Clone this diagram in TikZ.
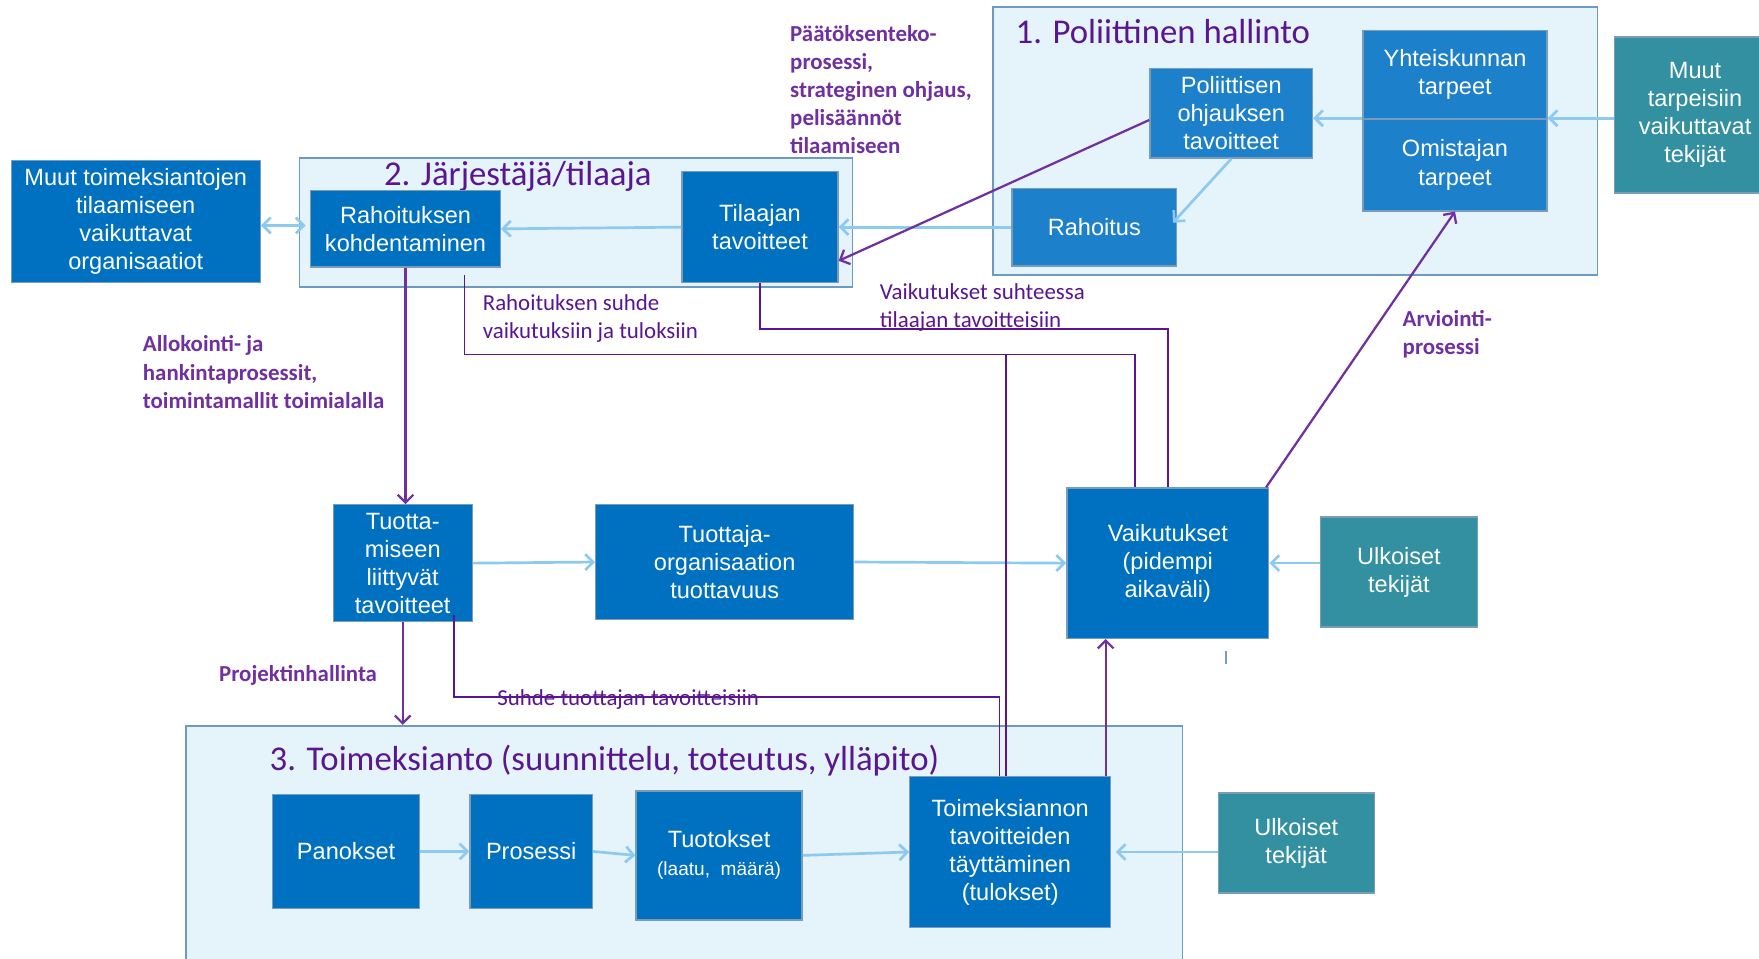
\documentclass[tikz,border=0pt]{standalone}
\usepackage{fontspec}
\setmainfont{Liberation Sans}
\newfontfamily\calibri{Carlito}
\usetikzlibrary{arrows.meta}

\definecolor{grpfill}{HTML}{E5F3FB}
\definecolor{grpedge}{HTML}{6C9AC0}
\definecolor{darkblue}{HTML}{0070C0}
\definecolor{lightblue}{HTML}{1D80CA}
\definecolor{tealblue}{HTML}{3290A0}
\definecolor{boxedge}{HTML}{7A9CBC}
\definecolor{skyline}{HTML}{8DCAF0}
\definecolor{purpline}{HTML}{7030A0}
\definecolor{darkpurp}{HTML}{5A1690}

\tikzset{
  group/.style={draw=grpedge, fill=grpfill, line width=0.8pt, inner sep=0pt},
  box/.style={draw=boxedge, line width=0.6pt, text=white, align=center, inner sep=1pt,
    font=\fontsize{10.5}{12.5}\selectfont},
  dbox/.style={box, fill=darkblue},
  lbox/.style={box, fill=lightblue},
  tbox/.style={box, fill=tealblue},
  skyarrow/.style={draw=skyline, line width=1.2pt, -{Straight Barb[length=3.5pt,width=7pt]}},
  skydouble/.style={draw=skyline, line width=1.2pt,
    {Straight Barb[length=3.5pt,width=7pt]}-{Straight Barb[length=3.5pt,width=7pt]}},
  purparrow/.style={draw=purpline, line width=1pt, -{Straight Barb[length=3.5pt,width=7pt]}},
  relline/.style={draw=darkpurp, line width=0.8pt},
  ptitle/.style={text=darkpurp, font=\calibri\fontsize{15.5}{18}\selectfont, inner sep=0pt, anchor=west},
  blabel/.style={text=purpline, font=\calibri\bfseries\fontsize{10.2}{12.5}\selectfont, align=left,
    anchor=north west, inner sep=0pt},
  rlabel/.style={text=darkpurp, font=\calibri\fontsize{10.2}{12.5}\selectfont, align=left,
    anchor=north west, inner sep=0pt},
}

\begin{document}
\begin{tikzpicture}[x=0.5pt,y=0.5pt,yscale=-1,xscale=1]
\fill[white] (0,0) rectangle (1568,854);
\useasboundingbox (0,0) rectangle (1568,854);

% Groups
\node[group, minimum width=269.5pt, minimum height=119.5pt] (polgrp) at (1154.5,125.5) {};
\node[group, minimum width=246.5pt, minimum height=57.5pt] (tilgrp) at (513.5,198.5) {};
\node[group, minimum width=444pt, minimum height=116.5pt] (toimgrp) at (610,763.5) {};

% Titles
\node[ptitle] (poltitle) at (905,28) {1. Poliittinen hallinto};
\node[ptitle] (tiltitle) at (342,157) {2. Järjestäjä/tilaaja};
\node[ptitle] (toimtitle) at (240,678) {3. Toimeksianto (suunnittelu, toteutus, ylläpito)};

% 1. Poliittinen hallinto
\node[lbox, minimum width=72.5pt, minimum height=40pt] (polohj) at (1097.5,101) {Poliittisen\\ohjauksen\\tavoitteet};
\node[lbox, minimum width=82pt, minimum height=39.5pt] (yhteis) at (1297,66.5) {Yhteiskunnan\\tarpeet};
\node[lbox, minimum width=82pt, minimum height=41pt] (omist) at (1297,147) {Omistajan\\tarpeet};
\node[lbox, minimum width=73.5pt, minimum height=34.5pt] (rahoitus) at (975.5,202.5) {Rahoitus};
\node[tbox, minimum width=72pt, minimum height=69.5pt] (muuttarp) at (1511,102.5) {Muut\\tarpeisiin\\vaikuttavat\\tekijät};

% 2. Jarjestaja/tilaaja
\node[dbox, minimum width=84.5pt, minimum height=34pt] (rahkoh) at (361.5,204) {Rahoituksen\\kohdentaminen};
\node[dbox, minimum width=69.5pt, minimum height=49.5pt] (tilaaja) at (677.5,202.5) {Tilaajan\\tavoitteet};
\node[dbox, minimum width=111pt, minimum height=54.5pt] (muuttoim) at (121,197.5) {Muut toimeksiantojen\\tilaamiseen\\vaikuttavat\\organisaatiot};

% middle row
\node[dbox, minimum width=62pt, minimum height=52pt] (tuotav) at (359,502) {Tuotta-\\miseen\\liittyvät\\tavoitteet};
\node[dbox, minimum width=115pt, minimum height=51pt] (tuottaja) at (646,501) {Tuottaja-\\organisaation\\tuottavuus};
\node[dbox, minimum width=90pt, minimum height=67pt] (vaik) at (1041,502) {Vaikutukset\\(pidempi\\aikaväli)};
\node[tbox, minimum width=70pt, minimum height=49pt] (ulk1) at (1247,510) {Ulkoiset\\tekijät};

% 3. Toimeksianto
\node[dbox, minimum width=65.5pt, minimum height=51pt] (panokset) at (308.5,759) {Panokset};
\node[dbox, minimum width=54.5pt, minimum height=51pt] (prosessi) at (473.5,759) {Prosessi};
\node[dbox, minimum width=74pt, minimum height=57.5pt] (tuotokset) at (641,762.5) {Tuotokset\\{\fontsize{8.5}{11}\selectfont(laatu,~ määrä)}};
\node[dbox, minimum width=89.5pt, minimum height=67.5pt] (toimeks) at (900.5,759.5) {Toimeksiannon\\tavoitteiden\\täyttäminen\\(tulokset)};
\node[tbox, minimum width=69.5pt, minimum height=44.5pt] (ulk2) at (1155.5,751.5) {Ulkoiset\\tekijät};

%Straight Lines
\draw[skyarrow] (muuttarp.west |- omist.north) -- (omist.north east);
\draw[skyarrow] (omist.north west) -- (polohj.east |- omist.north);
\draw[skyarrow] (polohj.south) -- ([xshift=-2pt,yshift=-2pt]rahoitus.east);
\draw[skyarrow] (rahoitus.west) -- (tilaaja.east);
\draw[skyarrow] (tilaaja.west) -- (rahkoh.east);
\draw[skydouble] ([yshift=-1.5pt]muuttoim.east |- rahkoh.west) -- ([xshift=-2pt,yshift=-1.5pt]rahkoh.west);
\draw[skyarrow] (tuotav.east) -- (tuottaja.west);
\draw[skyarrow] (tuottaja.east) -- (vaik.west);
\draw[skyarrow] (ulk1.west |- vaik.east) -- (vaik.east);
\draw[skyarrow] (panokset.east) -- (prosessi.west);
\draw[skyarrow] (prosessi.east) -- (tuotokset.west);
\draw[skyarrow] (tuotokset.east) -- (toimeks.west);
\draw[skyarrow] (ulk2.west |- toimeks.east) -- ([xshift=2pt]toimeks.east);

%Purple arrows
\draw[purparrow] ([yshift=3pt]polohj.west) -- ([yshift=15pt]tilaaja.east);
\draw[purparrow] (rahkoh.south) -- (rahkoh.south |- tuotav.north);
\draw[purparrow] (tuotav.south) -- (tuotav.south |- toimgrp.north);
\draw[purparrow] ([xshift=-2.5pt]toimeks.north east) -- ([xshift=-2.5pt]toimeks.north east |- vaik.south);
\draw[purparrow] ([xshift=-1.5pt]vaik.north east) -- (omist.south);

%Relation lines
\coordinate (rahsuhde) at (414,245);
\draw[relline] (rahsuhde) -- ++(0,71) coordinate (rahkulma) -| ([xshift=-14.5pt]vaik.north);
\draw[relline] ([xshift=-1.75pt]toimeks.north) -- ([xshift=-1.75pt]toimeks.north |- rahkulma);
\draw[relline] (tilaaja.south) -- ++(0,41) -| (vaik.north);
\draw[relline] ([xshift=23pt,yshift=-3pt]tuotav.south) -- ++(0,73) -| ([xshift=-4.75pt]toimeks.north);
\draw[boxedge, line width=0.6pt] (1093,580) -- (1093,592);

% Text Node
\node[blabel] (lblpaatos) at (704,22) {Päätöksenteko-\\prosessi,\\strateginen ohjaus,\\pelisäännöt\\tilaamiseen};
% Text Node
\node[blabel] (lblallok) at (127,299) {Allokointi- ja\\hankintaprosessit,\\toimintamallit toimialalla};
% Text Node
\node[blabel] (lblprojekti) at (195,593) {Projektinhallinta};
% Text Node
\node[blabel] (lblarviointi) at (1250,276) {Arviointi-\\prosessi};
% Text Node
\node[rlabel] (lblrahsuhde) at (430,262) {Rahoituksen suhde\\vaikutuksiin ja tuloksiin};
% Text Node
\node[rlabel] (lblvaiksuhde) at (784,252) {Vaikutukset suhteessa\\tilaajan tavoitteisiin};
% Text Node
\node[rlabel] (lblsuhde) at (443,614) {Suhde tuottajan tavoitteisiin};

\end{tikzpicture}
\end{document}
